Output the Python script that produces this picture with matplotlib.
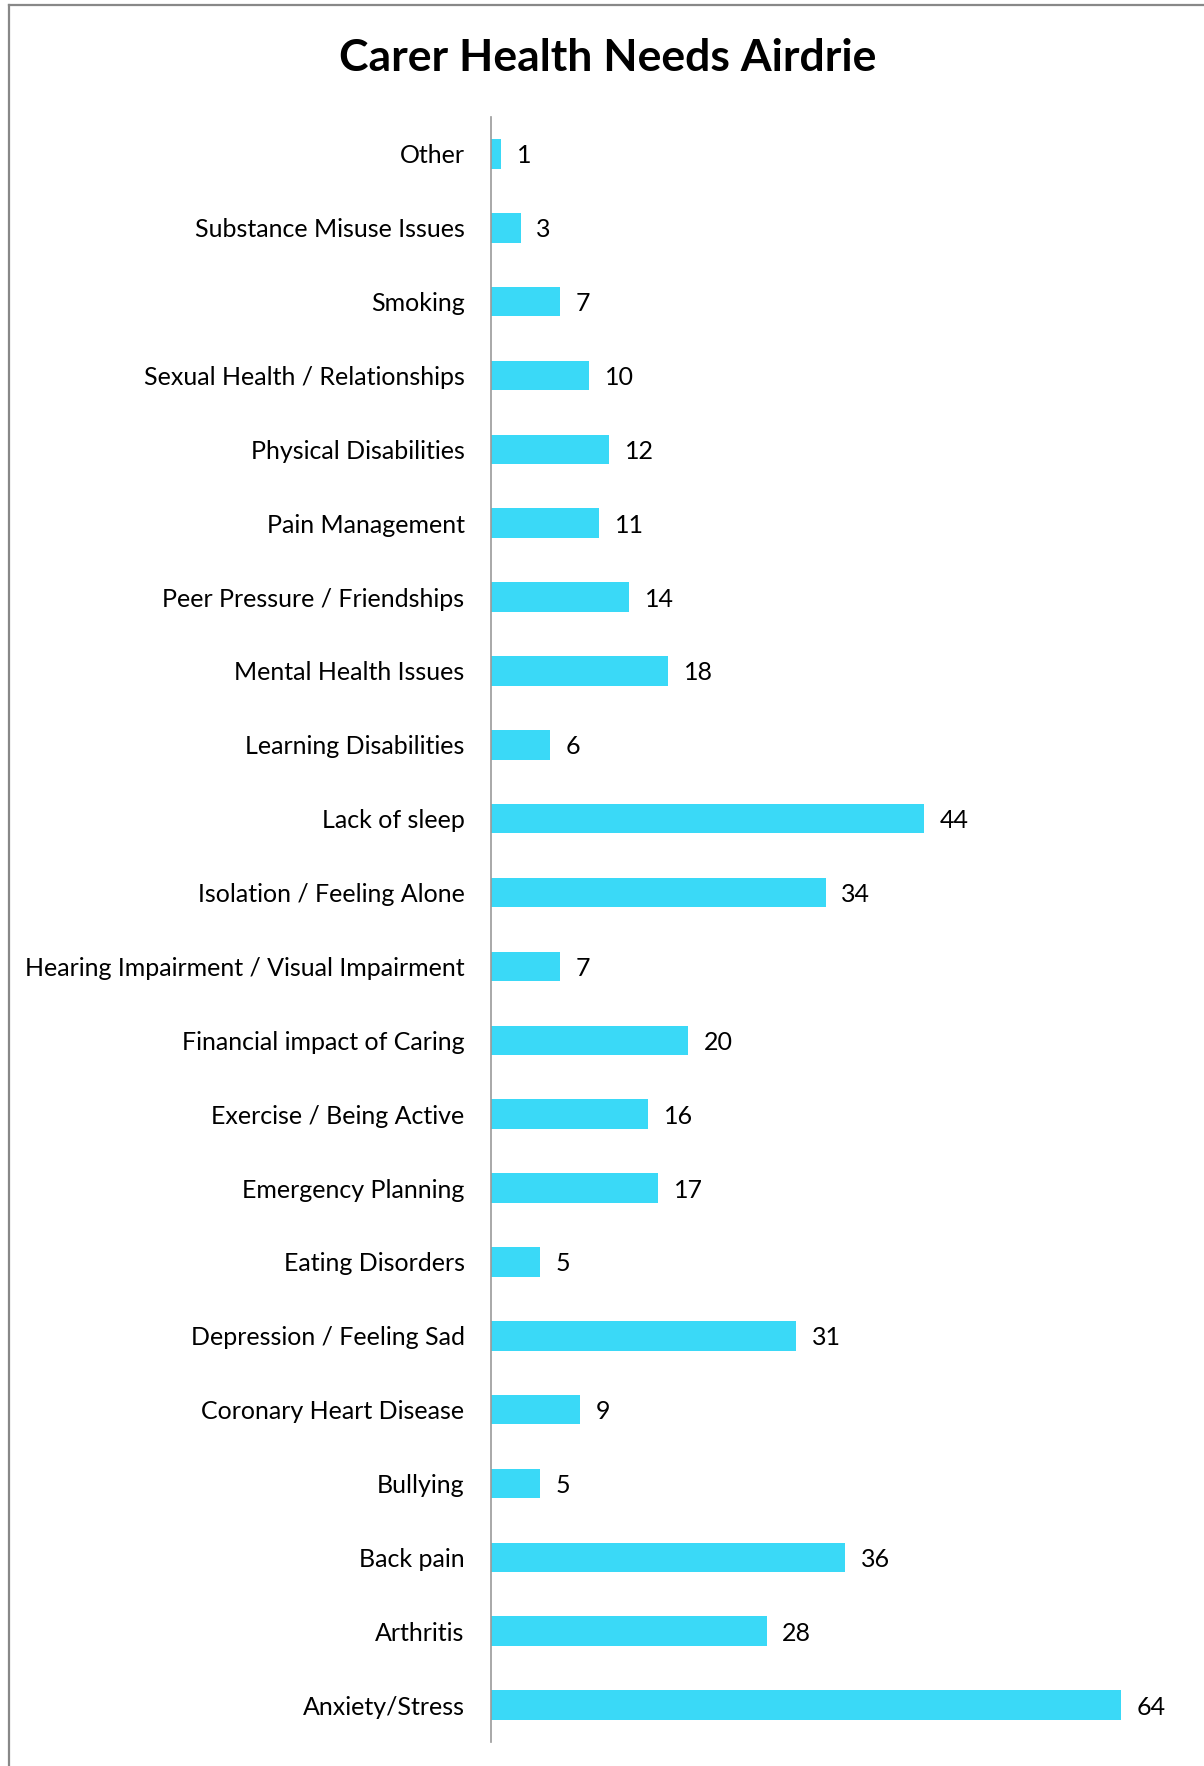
import matplotlib
matplotlib.use("Agg")
import matplotlib.pyplot as plt
from matplotlib.lines import Line2D

# data, top to bottom as in the chart
categories = [
    "Other", "Substance Misuse Issues", "Smoking", "Sexual Health / Relationships",
    "Physical Disabilities", "Pain Management", "Peer Pressure / Friendships",
    "Mental Health Issues", "Learning Disabilities", "Lack of sleep",
    "Isolation / Feeling Alone", "Hearing Impairment / Visual Impairment",
    "Financial impact of Caring", "Exercise / Being Active", "Emergency Planning",
    "Eating Disorders", "Depression / Feeling Sad", "Coronary Heart Disease",
    "Bullying", "Back pain", "Arthritis", "Anxiety/Stress",
]
counts = [1, 3, 7, 10, 12, 11, 14, 18, 6, 44, 34, 7, 20, 16, 17, 5, 31, 9, 5, 36, 28, 64]

plt.rcParams['font.family'] = ['Lato', 'DejaVu Sans']

W, H = 1204, 1766
fig = plt.figure(figsize=(W / 100, H / 100), dpi=100)

# outer frame (top + left edge visible)
fig.add_artist(Line2D([9 / W, 1], [1 - 5 / H, 1 - 5 / H], color='#888888', lw=1.6))
fig.add_artist(Line2D([9 / W, 9 / W], [0, 1 - 5 / H], color='#888888', lw=1.6))

ax = fig.add_axes([491 / W, 1 - 1742 / H, 689 / W, 1625 / H])
ypos = list(range(len(categories)))
ax.barh(ypos, counts, height=0.4, color='#3AD9F7')
ax.set_ylim(len(categories) - 0.5, -0.5)
ax.set_xlim(0, 70)

ax.set_yticks(ypos)
ax.set_yticklabels(categories, fontsize=18)
ax.tick_params(axis='y', length=0, pad=19)
ax.set_xticks([])
for s in ['top', 'right', 'bottom']:
    ax.spines[s].set_visible(False)
ax.spines['left'].set_color('#999999')
ax.spines['left'].set_linewidth(1.2)

for y, v in zip(ypos, counts):
    ax.text(v + 1.6, y, str(v), va='center_baseline', ha='left', fontsize=18)

fig.text(608 / W, 1 - 58 / H, "Carer Health Needs Airdrie", ha='center', va='center',
         fontsize=32, fontweight='bold')

fig.savefig("out.png", dpi=100)
